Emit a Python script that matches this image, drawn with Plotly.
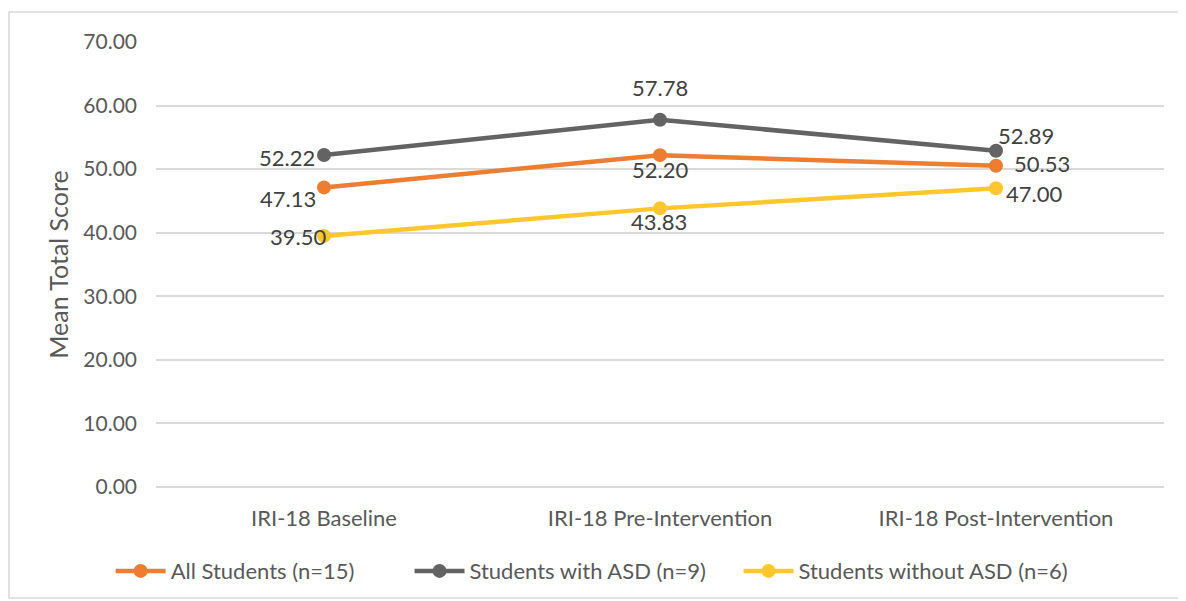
import plotly.graph_objects as go

categories = ["IRI-18 Baseline", "IRI-18 Pre-Intervention", "IRI-18 Post-Intervention"]
all_students = [47.13, 52.20, 50.53]
with_asd = [52.22, 57.78, 52.89]
without_asd = [39.50, 43.83, 47.00]
y_ticks = [0, 10, 20, 30, 40, 50, 60, 70]

FONT = "Lato"
TXT = "#595959"
LBL = "#404040"

fig = go.Figure()

def add(name, vals, color, offsets, legend):
    fig.add_trace(go.Scatter(
        x=categories, y=vals, name=name, mode="lines+markers",
        line=dict(color=color, width=4.5),
        marker=dict(color=color, size=14),
        cliponaxis=False, legend=legend,
    ))
    for c, v, (dx, dy) in zip(categories, vals, offsets):
        fig.add_annotation(x=c, y=v, text=f"{v:.2f}", showarrow=False,
                           xshift=dx, yshift=dy,
                           font=dict(family=FONT, size=22, color=LBL))

add("All Students (n=15)", all_students, "#ED7D31", [(-36, -11), (0, -14), (46, 2)], "legend")
add("Students with ASD (n=9)", with_asd, "#636363", [(-37, -2), (0, 32), (30, 15)], "legend2")
add("Students without ASD (n=6)", without_asd, "#FFC72C", [(-26, -1), (-1, -13), (38, -5)], "legend3")

def leg(x):
    return dict(orientation="h", x=x, xanchor="left", y=-0.189, yanchor="middle",
                font=dict(family=FONT, size=22, color=TXT), itemwidth=50,
                bgcolor="rgba(0,0,0,0)")

fig.update_layout(
    width=1178, height=593,
    margin=dict(l=148, r=22, t=34, b=114, autoexpand=False),
    paper_bgcolor="white", plot_bgcolor="white",
    font=dict(family=FONT, size=22, color=TXT),
    showlegend=True,
    legend=leg(-0.045),
    legend2=leg(0.2515),
    legend3=leg(0.5779),
    shapes=[dict(type="rect", xref="paper", yref="paper",
                 x0=-0.1458, x1=1.0159, y0=-0.2494, y1=1.0674,
                 line=dict(color="#D9D9D9", width=1.5), fillcolor="rgba(0,0,0,0)", layer="below")],
)
fig.update_xaxes(type="category", range=[-0.5, 2.5], showgrid=False, showline=False, ticks="",
                 automargin=False,
                 tickfont=dict(family=FONT, size=22, color=TXT), ticklabelstandoff=16)
fig.update_yaxes(range=[0, 70], tickvals=y_ticks, ticktext=[f"{v:.2f}" for v in y_ticks],
                 automargin=False,
                 showgrid=True, gridcolor="#D9D9D9", gridwidth=1.5, zeroline=True,
                 zerolinecolor="#D9D9D9", zerolinewidth=1.5,
                 tickfont=dict(family=FONT, size=21, color=TXT), ticklabelstandoff=18,
                 title=dict(text="Mean Total Score", font=dict(family=FONT, size=25, color=TXT), standoff=7))

fig.write_html("out.html")
